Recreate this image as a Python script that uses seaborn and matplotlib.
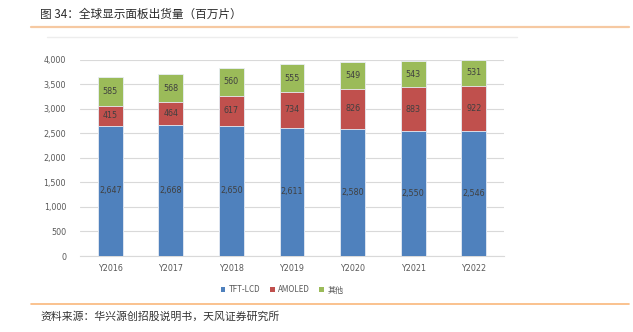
import numpy as np
import pandas as pd
import matplotlib
matplotlib.use("Agg")
import matplotlib.pyplot as plt
from matplotlib.lines import Line2D
from matplotlib.patches import Patch
import seaborn as sns

years = ["Y2016", "Y2017", "Y2018", "Y2019", "Y2020", "Y2021", "Y2022"]
tft_lcd = [2647, 2668, 2650, 2611, 2580, 2550, 2546]
amoled = [415, 464, 617, 734, 826, 883, 922]
others = [585, 568, 560, 555, 549, 543, 531]
series_names = ["TFT-LCD", "AMOLED", "其他"]
colors = ["#4F81BD", "#C0504D", "#9BBB59"]
yticks = [0, 500, 1000, 1500, 2000, 2500, 3000, 3500, 4000]

title = "图 34：全球显示面板出货量（百万片）"
source = "资料来源：华兴源创招股说明书，天风证券研究所"

sns.set_theme(style="white")
plt.rcParams["font.family"] = ["Noto Sans CJK SC", "DejaVu Sans"]

df = pd.DataFrame({"year": years, "TFT-LCD": tft_lcd, "AMOLED": amoled, "其他": others})
df["c1"] = df["TFT-LCD"]
df["c2"] = df["c1"] + df["AMOLED"]
df["c3"] = df["c2"] + df["其他"]

fig = plt.figure(figsize=(6.33, 3.32), dpi=100)
ax = fig.add_axes([80 / 633, 1 - 256 / 332, (504 - 80) / 633, (256 - 59.5) / 332])

bw = 0.41
for col, c in zip(["c3", "c2", "c1"], colors[::-1]):
    sns.barplot(data=df, x="year", y=col, color=c, width=bw, ax=ax,
                edgecolor="#e8eef6", linewidth=0.6, saturation=1, zorder=3)

# segment labels
bottoms = np.zeros(len(years))
for vals in [tft_lcd, amoled, others]:
    v = np.array(vals, dtype=float)
    for i, (b, h) in enumerate(zip(bottoms, v)):
        ax.text(i, b + h / 2, f"{int(h):,}", ha="center", va="center",
                fontsize=5.8, color="#404040", zorder=5, family=["DejaVu Sans"])
    bottoms = bottoms + v

ax.set_xlim(-0.5, len(years) - 0.5)
ax.set_ylim(0, 4000)
ax.set_yticks(yticks)
ax.set_yticklabels([f"{t:,}" for t in yticks])
ax.set_xlabel("")
ax.set_ylabel("")
ax.yaxis.grid(True, color="#d9d9d9", linewidth=0.8, zorder=0)
ax.xaxis.grid(False)
for s in ["top", "right", "left"]:
    ax.spines[s].set_visible(False)
ax.spines["bottom"].set_color("#d9d9d9")
ax.spines["bottom"].set_linewidth(0.8)
ax.tick_params(axis="both", length=0, labelsize=5.8, labelcolor="#595959")
ax.tick_params(axis="y", pad=10)
ax.tick_params(axis="x", pad=6)
for lab in ax.get_xticklabels() + ax.get_yticklabels():
    lab.set_family(["DejaVu Sans"])

handles = [Patch(facecolor=c, edgecolor="none") for c in colors]
fig.legend(handles, series_names, loc="center", bbox_to_anchor=(282 / 633, 1 - 290 / 332),
           ncol=3, frameon=False, fontsize=5.8, handlelength=0.6, handleheight=0.6,
           handletextpad=0.4, columnspacing=1.2, labelcolor="#595959")

# title, separators, source
fig.text(40 / 633, 1 - 14 / 332, title, fontsize=8.4, color="#2b2b2b", va="center", ha="left",
         fontweight="medium")
fig.add_artist(Line2D([31 / 633, 629 / 633], [1 - 26.5 / 332] * 2, color="#F6C9A2", lw=1.6,
                      transform=fig.transFigure))
fig.add_artist(Line2D([47 / 633, 517 / 633], [1 - 37 / 332] * 2, color="#ededed", lw=1.0,
                      transform=fig.transFigure))
fig.add_artist(Line2D([31 / 633, 629 / 633], [1 - 304 / 332] * 2, color="#F9B77C", lw=1.2,
                      transform=fig.transFigure))
fig.text(40 / 633, 1 - 317 / 332, source, fontsize=7.8, color="#333333", va="center", ha="left")

fig.savefig("out.png", dpi=100)
